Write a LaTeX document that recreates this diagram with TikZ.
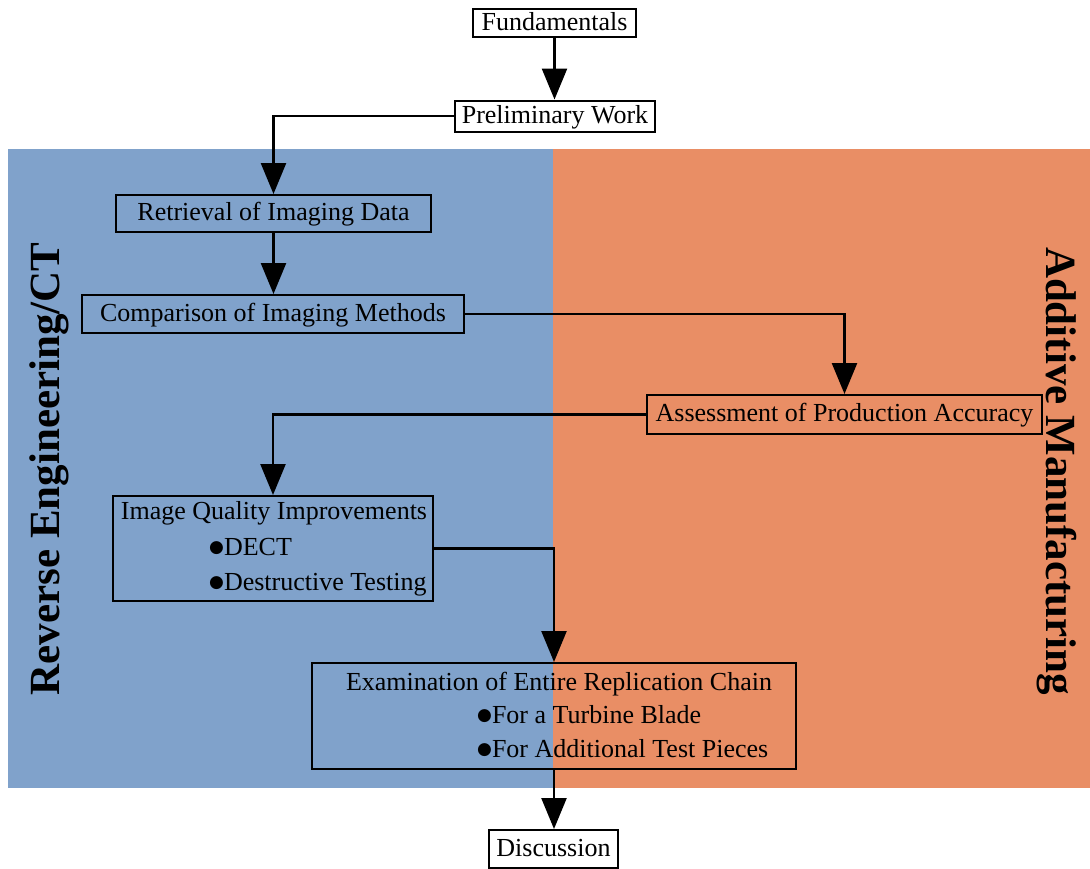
\documentclass[tikz,border=0pt]{standalone}
\usepackage{fontspec}
\setmainfont{Liberation Serif}
\newfontfamily\symfont{DejaVu Sans}
\usetikzlibrary{arrows.meta}
\definecolor{reblue}{RGB}{128,162,203}
\definecolor{amorange}{RGB}{233,142,101}
\newcommand\bigbul{\raisebox{3pt}{\symfont\fontsize{17}{18}\selectfont ●}}
\begin{document}
\begin{tikzpicture}[x=1pt,y=-1pt,
  font=\fontsize{26}{30}\selectfont,
  txt/.style={text height=18pt, text depth=6pt},
  box/.style={text height=19pt, text depth=5pt, draw=black, line width=2pt, inner sep=0pt, align=center},
  conn/.style={line width=2.5pt, -{Triangle[length=31pt,width=25pt]}},
  sidelabel/.style={font=\bfseries\fontsize{43}{48}\selectfont, anchor=base}]
\useasboundingbox (0,0) rectangle (1090,868);
\fill[reblue] (8,149) rectangle (553,788);
\fill[amorange] (553,149) rectangle (1090,788);
\node[sidelabel, rotate=90] (re) at (59,469) {Reverse Engineering/CT};
\node[sidelabel, rotate=-90] (am) at (1046,471) {Additive Manufacturing};
\node[box, minimum width=163pt, minimum height=28pt] (fund) at (554.5,23) {Fundamentals};
\node[box, minimum width=200pt, minimum height=31pt] (prelim) at (555,116) {Preliminary Work};
\node[box, minimum width=315pt, minimum height=37pt] (retr) at (273.5,213.5) {Retrieval of Imaging Data};
\node[box, minimum width=382pt, minimum height=38pt] (comp) at (273,314) {Comparison of Imaging Methods};
\node[box, minimum width=395pt, minimum height=39pt] (assess) at (844.5,414.5) {Assessment of Production Accuracy};
\node[box, minimum width=320pt, minimum height=105pt] (iq) at (273,548.5) {};
\node[txt, inner sep=0pt] (iqt) at (274,513) {Image Quality Improvements};
\node[txt, anchor=west, inner sep=0pt] (iqb1) at (209,549) {\bigbul DECT};
\node[txt, anchor=west, inner sep=0pt] (iqb2) at (209,584) {\bigbul Destructive Testing};
\node[box, minimum width=484pt, minimum height=106pt] (exam) at (554,716) {};
\node[txt, inner sep=0pt] (ext) at (559,684) {Examination of Entire Replication Chain};
\node[txt, anchor=west, inner sep=0pt] (exb1) at (477,717) {\bigbul For a Turbine Blade};
\node[txt, anchor=west, inner sep=0pt] (exb2) at (477,751) {\bigbul For Additional Test Pieces};
\node[box, minimum width=129pt, minimum height=38pt] (disc) at (553.5,849) {Discussion};
\draw[conn] (fund.south) -- (fund.south |- prelim.north);
\draw[conn] (prelim.west) -| (retr.north);
\draw[conn] (retr.south) -- (retr.south |- comp.north);
\draw[conn] (comp.east) -| (assess.north);
\draw[conn] (assess.west) -| (iq.north);
\draw[conn] (iq.east) -| (exam.north);
\draw[conn] (exam.south) -- (exam.south |- disc.north);
\end{tikzpicture}
\end{document}
